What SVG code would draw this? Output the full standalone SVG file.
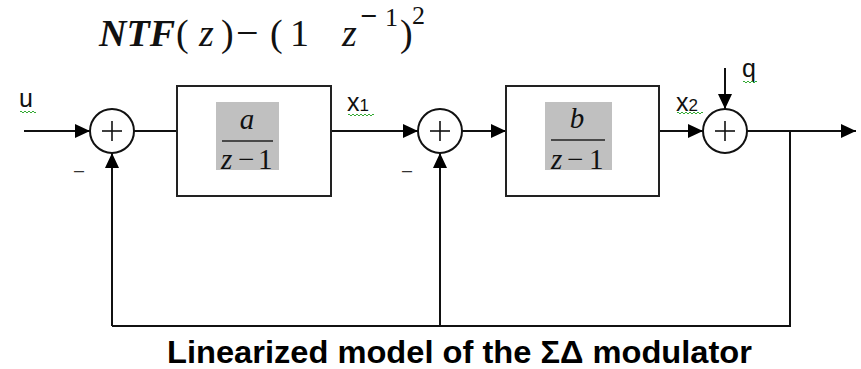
<svg xmlns="http://www.w3.org/2000/svg" width="861" height="369" viewBox="0 0 861 369">
<defs>
<marker id="ah" markerWidth="16" markerHeight="14" refX="15" refY="7" orient="auto" markerUnits="userSpaceOnUse">
<path d="M0,0 L15,7 L0,14 Z" fill="#000"/>
</marker>
<style>
.ln{stroke:#111;stroke-width:2;fill:none}
.arr{stroke:#111;stroke-width:2;fill:none;marker-end:url(#ah)}
.blk{fill:#fff;stroke:#222;stroke-width:2}
.sum{fill:#fff;stroke:#111;stroke-width:2}
.plus{stroke:#111;stroke-width:1.6}
.gray{fill:#c0c0c0}
.frac{stroke:#222;stroke-width:1.5}
.math{font-family:"Liberation Serif",serif;fill:#111}
.lab{font-family:"Liberation Sans",sans-serif;font-size:25px;fill:#111}
.sq{stroke:#3a3;stroke-width:1;fill:none}
.minus{font-family:"Liberation Sans",sans-serif;font-size:18px;fill:#333}
</style>
</defs>
<rect width="861" height="369" fill="#fff"/>

<g id="formula" class="math">
<text x="99" y="46" font-size="38" font-weight="bold" font-style="italic" textLength="76" lengthAdjust="spacingAndGlyphs">NTF</text>
<text x="176" y="46" font-size="38">(</text>
<text x="199" y="46" font-size="38" font-style="italic">z</text>
<text x="221" y="46" font-size="38">)</text>
<text x="236" y="46" font-size="40">−</text>
<text x="270" y="46" font-size="38">(</text>
<text x="290" y="46" font-size="38">1</text>
<text x="342" y="46" font-size="38" font-style="italic">z</text>
<text x="360" y="26" font-size="30" font-weight="bold">−</text>
<text x="385" y="26" font-size="26">1</text>
<text x="400" y="46" font-size="38">)</text>
<text x="412" y="24" font-size="26">2</text>
</g>

<g id="connectors">
<line class="arr" x1="24" y1="131" x2="90" y2="131"/>
<line class="ln" x1="134" y1="131" x2="177" y2="131"/>
<line class="arr" x1="331" y1="131" x2="418" y2="131"/>
<line class="arr" x1="462" y1="131" x2="506" y2="131"/>
<line class="arr" x1="659" y1="131" x2="703" y2="131"/>
<line class="arr" x1="747" y1="131" x2="856" y2="131"/>
<line class="arr" x1="725" y1="68" x2="725" y2="109"/>
<polyline class="ln" points="790,131 790,326 112,326"/>
<line class="arr" x1="112" y1="326" x2="112" y2="153"/>
<line class="arr" x1="440" y1="326" x2="440" y2="153"/>
</g>

<g id="sum1">
<circle class="sum" cx="112" cy="131" r="22"/>
<line class="plus" x1="102" y1="131" x2="122" y2="131"/>
<line class="plus" x1="112" y1="121" x2="112" y2="141"/>
<text class="minus" x="74" y="176">–</text>
</g>

<g id="sum2">
<circle class="sum" cx="440" cy="131" r="22"/>
<line class="plus" x1="430" y1="131" x2="450" y2="131"/>
<line class="plus" x1="440" y1="121" x2="440" y2="141"/>
<text class="minus" x="402" y="176">–</text>
</g>

<g id="sum3">
<circle class="sum" cx="725" cy="131" r="22"/>
<line class="plus" x1="715" y1="131" x2="735" y2="131"/>
<line class="plus" x1="725" y1="121" x2="725" y2="141"/>
</g>

<g id="block1">
<rect class="blk" x="177" y="86" width="154" height="110"/>
<rect class="gray" x="216" y="102" width="63" height="68"/>
<text class="math" x="247" y="129" font-size="29" font-style="italic" text-anchor="middle">a</text>
<line class="frac" x1="222" y1="141" x2="273" y2="141"/>
<text class="math" x="221" y="169" font-size="29" font-style="italic">z</text>
<text class="math" x="238" y="169" font-size="29">−</text>
<text class="math" x="258" y="169" font-size="29">1</text>
</g>

<g id="block2">
<rect class="blk" x="506" y="86" width="153" height="110"/>
<rect class="gray" x="545" y="102" width="67" height="68"/>
<text class="math" x="577" y="128" font-size="29" font-style="italic" text-anchor="middle">b</text>
<line class="frac" x1="551" y1="140" x2="605" y2="140"/>
<text class="math" x="551" y="169" font-size="29" font-style="italic">z</text>
<text class="math" x="567" y="169" font-size="29">−</text>
<text class="math" x="589" y="169" font-size="29">1</text>
</g>

<g id="labels">
<text class="lab" x="19" y="107">u</text>
<path class="sq" d="M20,112 q1,-2 2,0 t2,0 t2,0 t2,0 t2,0 t2,0 t2,0 t2,0"/>
<text class="lab" x="347" y="111">x<tspan font-size="17">1</tspan></text>
<path class="sq" d="M348,115 q1,-2 2,0 t2,0 t2,0 t2,0 t2,0 t2,0 t2,0 t2,0 t2,0 t2,0 t2,0 t2,0 t2,0"/>
<text class="lab" x="676" y="111">x<tspan font-size="17">2</tspan></text>
<path class="sq" d="M677,113 q1,-2 2,0 t2,0 t2,0 t2,0 t2,0 t2,0 t2,0 t2,0 t2,0 t2,0 t2,0 t2,0 t2,0"/>
<text class="lab" x="742" y="77">q</text>
<path class="sq" d="M743,82 q1,-2 2,0 t2,0 t2,0 t2,0 t2,0 t2,0 t2,0"/>
</g>

<text x="167" y="363" font-family="'Liberation Sans',Arial,sans-serif" font-size="31" font-weight="bold" fill="#000" textLength="585" lengthAdjust="spacingAndGlyphs">Linearized model of the ΣΔ modulator</text>
</svg>
